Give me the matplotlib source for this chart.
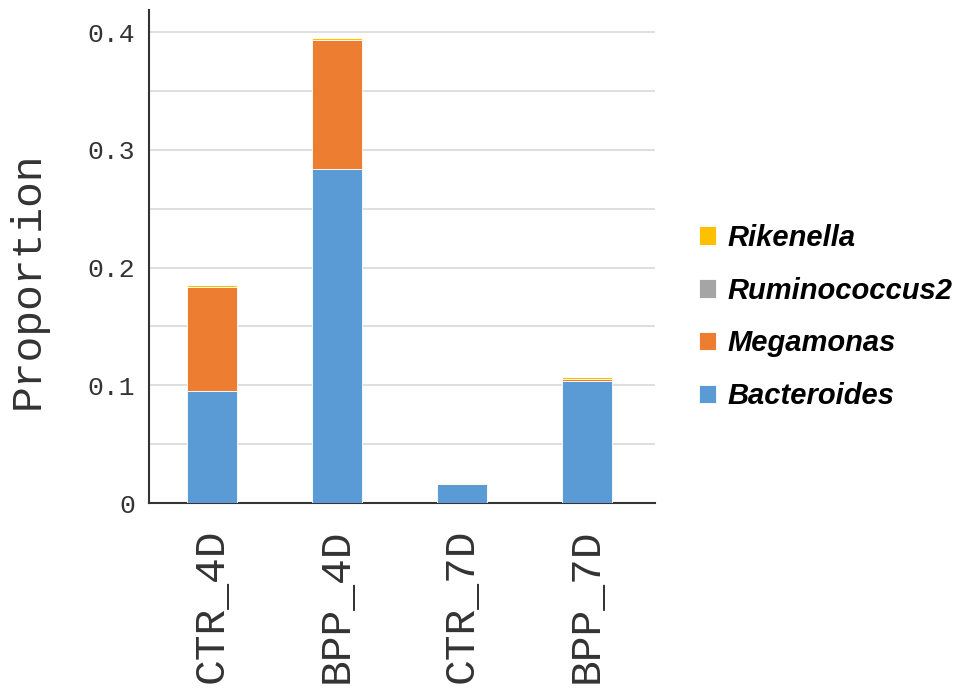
import matplotlib
matplotlib.use("Agg")
import matplotlib.pyplot as plt
import numpy as np

groups = ["CTR_4D", "BPP_4D", "CTR_7D", "BPP_7D"]
bacteroides = [0.0949, 0.2834, 0.0159, 0.1036]
megamonas = [0.0885, 0.1101, 0.0002, 0.0017]
ruminococcus2 = [0.0002, 0.0002, 0.0001, 0.0002]
rikenella = [0.0015, 0.0009, 0.0013, 0.0015]

yticks = [0, 0.1, 0.2, 0.3, 0.4]
ytick_labels = ["0", "0.1", "0.2", "0.3", "0.4"]

# stacked bottom-up
layers = [
    ("Bacteroides", bacteroides, "#5B9BD5"),
    ("Megamonas", megamonas, "#ED7D31"),
    ("Ruminococcus2", ruminococcus2, "#A5A5A5"),
    ("Rikenella", rikenella, "#FFC000"),
]

mono = "Liberation Mono"

fig = plt.figure(figsize=(9.8, 6.93), dpi=100)
ax = fig.add_axes([0.152, 0.274, 0.516, 0.7114])

x = np.arange(len(groups))
bottom = np.zeros(len(groups))
handles = []
for name, vals, col in layers:
    b = ax.bar(x, vals, width=0.4, bottom=bottom, color=col,
               edgecolor="white", linewidth=0.6, label=name, zorder=3)
    bottom += np.array(vals)
    handles.append(b)

ax.set_xlim(-0.5, 3.54)
ax.set_ylim(0, 0.4187)

ax.set_yticks(yticks)
ax.set_yticklabels(ytick_labels, family=mono, fontsize=19, color="#333333")
ax.set_yticks(np.arange(0.05, 0.41, 0.1), minor=True)
ax.grid(axis="y", which="both", color="#d9d9d9", linewidth=1.2, zorder=0)
ax.tick_params(axis="y", which="both", length=0, pad=10)

ax.set_xticks(x)
ax.set_xticklabels(groups, rotation=90, family=mono, fontsize=31,
                   color="#333333")
ax.tick_params(axis="x", length=0, pad=18)

ax.set_ylabel("Proportion", family=mono, fontsize=31, color="#333333",
              va="center")
ax.yaxis.set_label_coords(-0.239, 0.452)

for side in ["top", "right"]:
    ax.spines[side].set_visible(False)
for side in ["left", "bottom"]:
    ax.spines[side].set_color("#333333")
    ax.spines[side].set_linewidth(1.5)

leg = fig.legend(handles[::-1], [h.get_label() for h in handles[::-1]],
                 loc="center left", bbox_to_anchor=(0.686, 0.5426),
                 frameon=False, handlelength=0.6, handleheight=0.6,
                 handletextpad=0.4, labelspacing=0.85,
                 prop={"family": "Liberation Sans", "weight": "bold",
                       "style": "italic", "size": 21})

fig.savefig("out.png", dpi=100)
